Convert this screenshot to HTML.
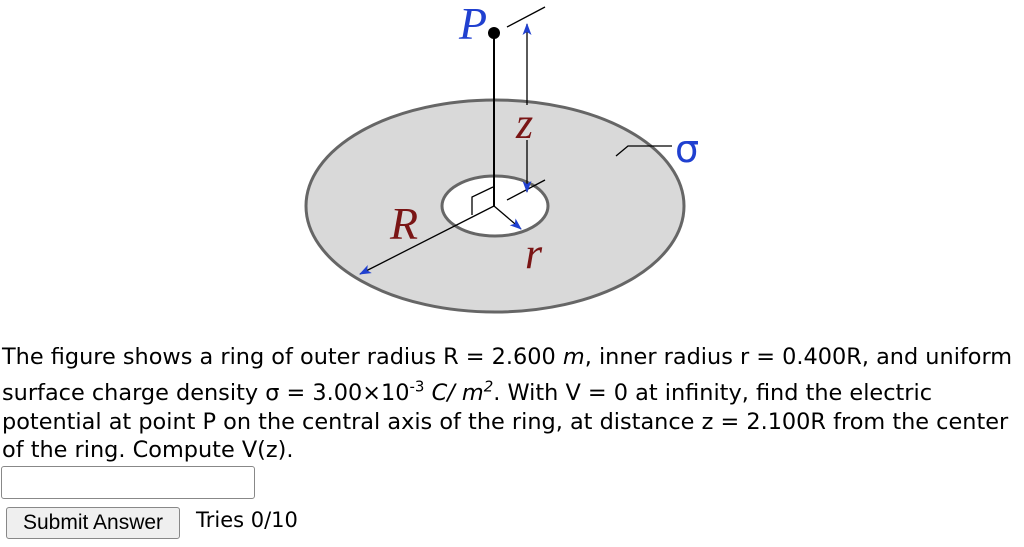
<!DOCTYPE html>
<html><head><meta charset="utf-8"><style>
body{margin:0;width:1024px;height:547px;background:#fff;position:relative;overflow:hidden;font-family:"DejaVu Sans","Liberation Sans",sans-serif;}
.t{position:absolute;left:2px;font-size:22.4px;white-space:nowrap;color:#000;line-height:26px;}
sup{font-size:15px;line-height:0;}
</style></head><body>
<svg width="1024" height="330" style="position:absolute;left:0;top:0">
<defs><marker id="a" markerWidth="12" markerHeight="9" refX="11" refY="4.5" orient="auto" markerUnits="userSpaceOnUse"><path d="M0,0 L12,4.5 L0,9 L3,4.5z" fill="#2040d0"/></marker></defs>
<ellipse cx="495" cy="206" rx="189" ry="106" fill="#d9d9d9" stroke="#666" stroke-width="3"/>
<ellipse cx="495" cy="206" rx="53" ry="30" fill="#fff" stroke="#666" stroke-width="3"/>
<line x1="494" y1="33" x2="494" y2="206" stroke="#000" stroke-width="2"/>
<circle cx="494" cy="33" r="6" fill="#000"/>
<polyline points="472,215 472,197 493,187" fill="none" stroke="#000" stroke-width="1.3"/>
<line x1="494" y1="206" x2="360" y2="274" stroke="#000" stroke-width="1.3" marker-end="url(#a)"/>
<line x1="494" y1="206" x2="521" y2="229" stroke="#000" stroke-width="1.3" marker-end="url(#a)"/>
<line x1="507" y1="27" x2="545" y2="7" stroke="#000" stroke-width="1.3"/>
<line x1="507" y1="200" x2="545" y2="180" stroke="#000" stroke-width="1.3"/>
<line x1="527" y1="105" x2="527" y2="24" stroke="#000" stroke-width="1.3" marker-end="url(#a)"/>
<line x1="527" y1="140" x2="527" y2="192" stroke="#000" stroke-width="1.3" marker-end="url(#a)"/>
<polyline points="616,156 628,146 672,146" fill="none" stroke="#000" stroke-width="1.3"/>
<text x="459" y="39" font-family="Liberation Serif,serif" font-style="italic" font-size="46" fill="#2040d0">P</text>
<text x="516" y="138" font-family="Liberation Serif,serif" font-style="italic" font-size="44" fill="#7a1515">z</text>
<text x="390" y="239" font-family="Liberation Serif,serif" font-style="italic" font-size="46" fill="#7a1515">R</text>
<text x="525" y="268" font-family="Liberation Serif,serif" font-style="italic" font-size="44" fill="#7a1515">r</text>
<text x="675" y="162" font-family="DejaVu Sans,sans-serif" font-size="38" fill="#2040d0">σ</text>
</svg>
<div class="t" style="top:344px">The figure shows a ring of outer radius R = 2.600 <i>m</i>, inner radius r = 0.400R, and uniform</div>
<div class="t" style="top:380px">surface charge density σ = 3.00×10<sup>-3</sup> <i>C/ m<sup>2</sup></i>. With V = 0 at infinity, find the electric</div>
<div class="t" style="top:409px">potential at point P on the central axis of the ring, at distance z = 2.100R from the center</div>
<div class="t" style="top:437px">of the ring. Compute V(z).</div>
<div style="position:absolute;left:1px;top:466px;width:252px;height:31px;border:1px solid #888;border-radius:3px;"></div>
<div style="position:absolute;left:6px;top:507px;width:172px;height:30px;border:1px solid #888;border-radius:3px;background:#efefef;font-family:'Liberation Sans',sans-serif;font-size:21px;line-height:30px;text-align:center;">Submit Answer</div>
<div style="position:absolute;left:196px;top:508px;font-family:'DejaVu Sans',sans-serif;font-size:21px;">Tries 0/10</div>
</body></html>
